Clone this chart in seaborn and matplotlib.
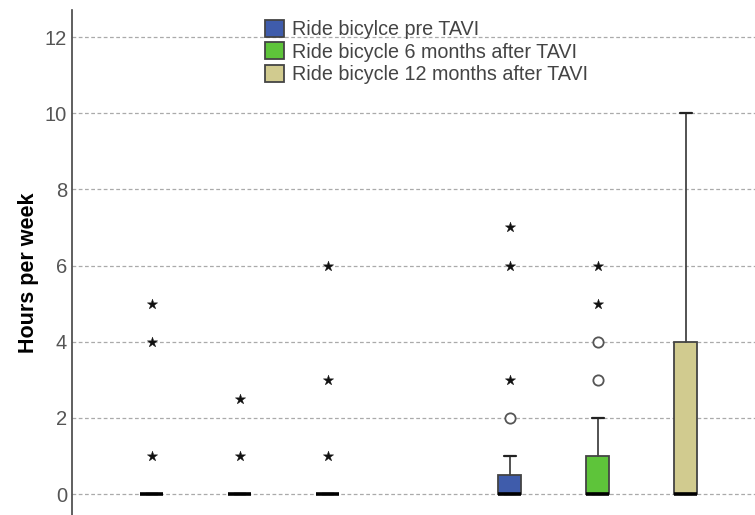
import numpy as np
import pandas as pd
import matplotlib
matplotlib.use("Agg")
import matplotlib.pyplot as plt
import seaborn as sns
from matplotlib.patches import Patch

# Style Setting
sns.set_style("white")
plt.rcParams['font.family'] = ['Liberation Sans', 'DejaVu Sans']

### Data ###
groups = ['group 1', 'group 2']
series = ['Ride bicylce pre TAVI',
          'Ride bicycle 6 months after TAVI',
          'Ride bicycle 12 months after TAVI']
colors = ['#3f5cab', '#5ec43a', '#d1cb8f']

# box statistics per group, per series
q1 = [[0, 0, 0], [0, 0, 0]]
median = [[0, 0, 0], [0, 0, 0]]
q3 = [[0, 0, 0], [0.5, 1, 4]]
whisker_hi = [[0, 0, 0], [1, 2, 10]]
# outliers (circles) and extremes (stars)
outliers = [[[], [], []], [[2], [3, 4], []]]
extremes = [[[1, 4, 5], [1, 2.5], [1, 3, 6]], [[3, 6, 7], [5, 6], []]]

y_ticks = [0, 2, 4, 6, 8, 10, 12]

hue_offset = 0.246
box_width = 0.064

fig = plt.figure(figsize=(7.55, 5.15), dpi=100)
ax = fig.add_axes([72 / 755, 0, 1 - 72 / 755, 505 / 515])

# boxes
for g in range(len(groups)):
    for s in range(len(series)):
        pos = g + (s - 1) * hue_offset
        stats = [dict(med=median[g][s], q1=q1[g][s], q3=q3[g][s],
                      whislo=q1[g][s], whishi=whisker_hi[g][s], fliers=[])]
        ax.bxp(stats, positions=[pos], widths=box_width, capwidths=box_width / 2,
               patch_artist=True, showfliers=False,
               boxprops=dict(facecolor=colors[s], edgecolor='#444444', linewidth=1.3),
               medianprops=dict(color='black', linewidth=2.6, solid_capstyle='butt'),
               whiskerprops=dict(color='#444444', linewidth=1.3),
               capprops=dict(color='#222222', linewidth=1.6),
               manage_ticks=False, zorder=3)

# outlier points
rows = []
for g in range(len(groups)):
    for s in range(len(series)):
        pos = g + (s - 1) * hue_offset
        for v in outliers[g][s]:
            rows.append(dict(pos=pos, value=v, kind='outlier'))
        for v in extremes[g][s]:
            rows.append(dict(pos=pos, value=v, kind='extreme'))
df = pd.DataFrame(rows)

sns.scatterplot(data=df[df['kind'] == 'extreme'], x='pos', y='value', marker='*',
                color='#111111', s=60, linewidth=0.3, edgecolor='#111111', ax=ax, zorder=4)
sns.scatterplot(data=df[df['kind'] == 'outlier'], x='pos', y='value', marker='o',
                color='white', s=55, linewidth=1.3, edgecolor='#555555', ax=ax, zorder=4)

# axes
ax.set_xlim(-0.469, 1.439)
ax.set_ylim(-0.55, 12.71)
ax.set_yticks(y_ticks)
ax.set_yticklabels([str(t) for t in y_ticks], color='#555555', fontsize=14.5)
ax.tick_params(axis='y', length=0, pad=3.5)
ax.set_xticks([])
ax.set_xlabel('')
ax.set_ylabel('Hours per week', fontsize=15.5, fontweight='bold', color='black')
ax.yaxis.set_label_coords(-0.048, 0.479)
ax.grid(axis='y', color='#aaaaaa', linestyle=(0, (3, 2)), linewidth=0.9, zorder=0)
ax.set_axisbelow(True)
for side in ['top', 'right', 'bottom']:
    ax.spines[side].set_visible(False)
ax.spines['left'].set_color('#444444')
ax.spines['left'].set_linewidth(1.2)

# legend
handles = [Patch(facecolor=c, edgecolor='#444444', linewidth=1.3) for c in colors]
ax.legend(handles, series, loc='upper left', bbox_to_anchor=(0.268, 1.0),
          frameon=False, fontsize=14.2, handlelength=0.95, handleheight=0.95,
          labelspacing=0.16, handletextpad=0.4, borderaxespad=0.1,
          labelcolor='#444444')

fig.savefig('out.png', dpi=100)
